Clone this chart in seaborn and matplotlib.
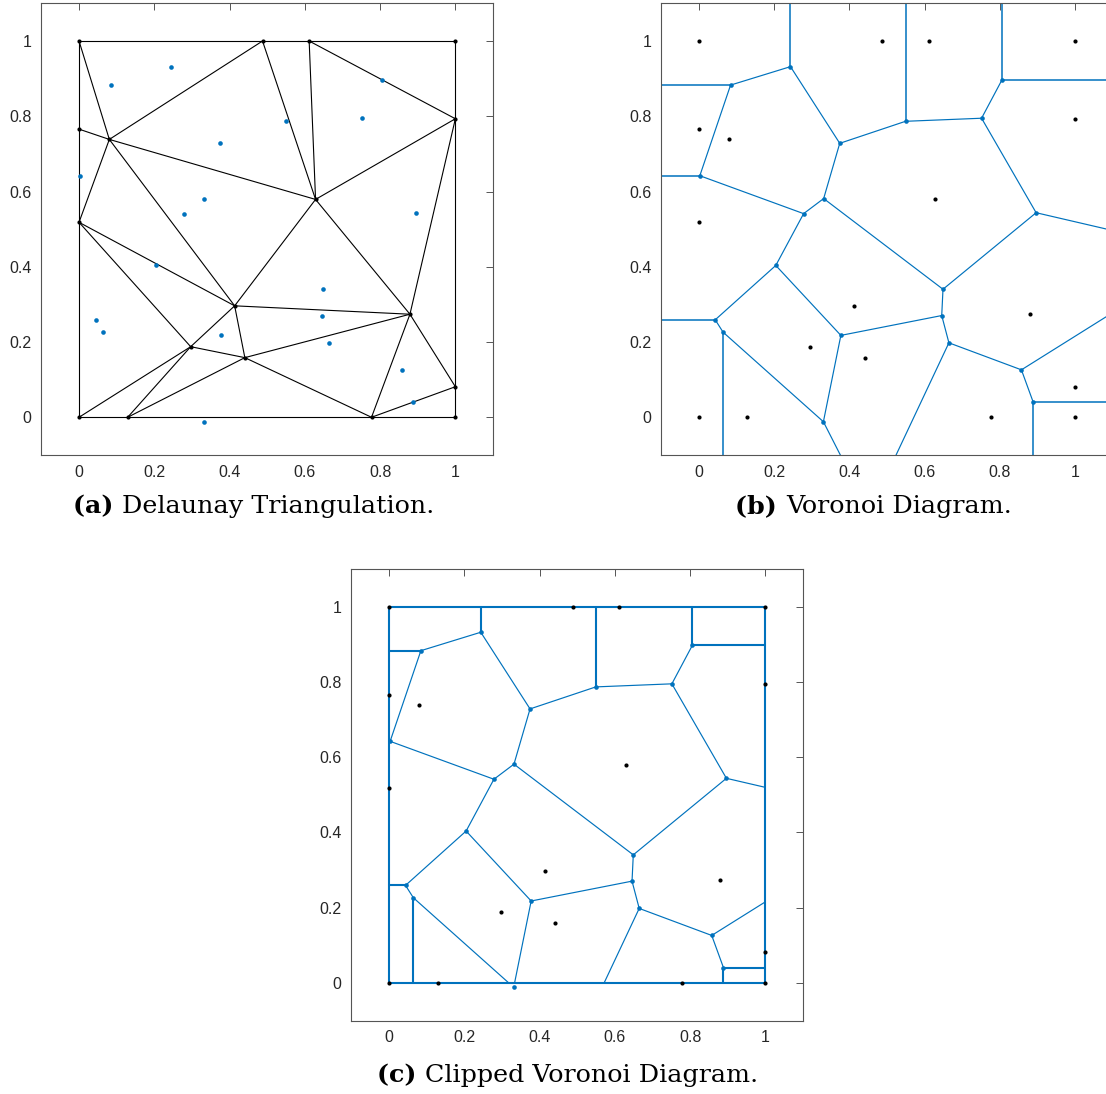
import numpy as np
import pandas as pd
import matplotlib
matplotlib.use("Agg")
import matplotlib.pyplot as plt
import seaborn as sns

# ---------------- data ----------------
site_x = [0.0, 0.4876, 0.6115, 1.0, 0.0, 0.0805, 1.0, 0.0, 0.6285, 0.4135,
          0.8793, 0.2967, 0.4406, 1.0, 0.0, 0.1292, 0.7772, 1.0]
site_y = [1.0, 1.0, 1.0, 1.0, 0.7658, 0.7385, 0.7934, 0.5182, 0.579, 0.2962,
          0.2739, 0.1876, 0.1585, 0.0812, 0.0, 0.0, 0.0, 0.0]

# Delaunay triangles (indices into the site arrays)
tri_a = [0, 0, 4, 1, 1, 2, 2, 5, 5, 7, 7, 14, 15, 11, 9, 8, 8, 12, 12, 10, 16, 6]
tri_b = [4, 1, 5, 5, 2, 6, 3, 7, 8, 9, 11, 15, 11, 9, 10, 9, 6, 15, 10, 16, 13, 10]
tri_c = [5, 5, 7, 8, 8, 8, 6, 9, 9, 11, 14, 11, 12, 12, 12, 10, 10, 16, 16, 13, 17, 13]

tick_values = [0, 0.2, 0.4, 0.6, 0.8, 1]
tick_labels = ["0", "0.2", "0.4", "0.6", "0.8", "1"]
caption_tags = ["(a)", "(b)", "(c)"]
caption_texts = ["Delaunay Triangulation.", "Voronoi Diagram.", "Clipped Voronoi Diagram."]

# ---------------- geometry derived from the data ----------------
P = np.column_stack([site_x, site_y])
tris = list(zip(tri_a, tri_b, tri_c))


def circumcenter(a, b, c):
    ax_, ay = a
    bx, by = b
    cx, cy = c
    d = 2 * (ax_ * (by - cy) + bx * (cy - ay) + cx * (ay - by))
    ux = ((ax_**2 + ay**2) * (by - cy) + (bx**2 + by**2) * (cy - ay) + (cx**2 + cy**2) * (ay - by)) / d
    uy = ((ax_**2 + ay**2) * (cx - bx) + (bx**2 + by**2) * (ax_ - cx) + (cx**2 + cy**2) * (bx - ax_)) / d
    return np.array([ux, uy])


cc = np.array([circumcenter(P[i], P[j], P[k]) for i, j, k in tris])

edge_tris = {}
for t, (i, j, k) in enumerate(tris):
    for e, other in (((i, j), k), ((j, k), i), ((i, k), j)):
        key = tuple(sorted(e))
        edge_tris.setdefault(key, []).append((t, other))

del_segs = [(P[a], P[b]) for (a, b) in edge_tris.keys()]

vor_inner = []
vor_rays = []
for (a, b), lst in edge_tris.items():
    if len(lst) == 2:
        vor_inner.append((cc[lst[0][0]], cc[lst[1][0]]))
    else:
        t, other = lst[0]
        d = P[b] - P[a]
        n = np.array([d[1], -d[0]])
        n = n / np.linalg.norm(n)
        if np.dot(n, P[other] - P[a]) > 0:
            n = -n
        vor_rays.append((cc[t], cc[t] + 5 * n))


def clip(p0, p1, lo=0.0, hi=1.0):
    x0, y0 = p0
    dx, dy = p1[0] - x0, p1[1] - y0
    t0, t1 = 0.0, 1.0
    for p, q in ((-dx, x0 - lo), (dx, hi - x0), (-dy, y0 - lo), (dy, hi - y0)):
        if abs(p) < 1e-12:
            if q < 0:
                return None
        else:
            r = q / p
            if p < 0:
                if r > t1:
                    return None
                t0 = max(t0, r)
            else:
                if r < t0:
                    return None
                t1 = min(t1, r)
    a = np.array([x0 + t0 * dx, y0 + t0 * dy])
    b = np.array([x0 + t1 * dx, y0 + t1 * dy])
    if np.linalg.norm(b - a) < 1e-9:
        return None
    return (a, b)


clip_inner = [s for s in (clip(*s) for s in vor_inner) if s is not None]
clip_rays = [s for s in (clip(*s) for s in vor_rays) if s is not None]
square = [((0, 0), (1, 0)), ((1, 0), (1, 1)), ((1, 1), (0, 1)), ((0, 1), (0, 0))]
clip_rays += [(np.array(a, float), np.array(b, float)) for a, b in square]


def seg_frame(segs):
    rows = []
    for n, (a, b) in enumerate(segs):
        rows.append((n, 0, a[0], a[1]))
        rows.append((n, 1, b[0], b[1]))
    return pd.DataFrame(rows, columns=["seg", "ord", "x", "y"])


# ---------------- style ----------------
sns.set_style("white")
plt.rcParams["font.family"] = ["Liberation Sans", "DejaVu Sans"]

BLUE = "#0072BD"
AXC = "#555555"
W, H = 1106, 1094
fig = plt.figure(figsize=(W / 100, H / 100), dpi=100)


def make_ax(left_px, top_px):
    w, h = 451.6, 451.5
    ax = fig.add_axes([left_px / W, 1 - (top_px + h) / H, w / W, h / H])
    ax.set_xlim(-0.1, 1.1)
    ax.set_ylim(-0.1, 1.1)
    ax.set_xticks(tick_values)
    ax.set_xticklabels(tick_labels)
    ax.set_yticks(tick_values)
    ax.set_yticklabels(tick_labels)
    ax.tick_params(direction="in", top=True, right=True, length=5, width=0.7,
                   color=AXC, labelcolor="#262626", labelsize=11.5, pad=7)
    for sp in ax.spines.values():
        sp.set_color(AXC)
        sp.set_linewidth(0.8)
        sp.set_visible(True)
    return ax


def draw_lines(ax, segs, color, lw):
    if not segs:
        return
    df = seg_frame(segs)
    sns.lineplot(data=df, x="x", y="y", units="seg", estimator=None, sort=False,
                 color=color, linewidth=lw, ax=ax, legend=False)


def draw_pts(ax, xs, ys, color, s):
    sns.scatterplot(x=list(xs), y=list(ys), color=color, s=s, linewidth=0, ax=ax,
                    legend=False, zorder=5)


# (a) Delaunay triangulation
ax1 = make_ax(41.4, 3.4)
draw_lines(ax1, del_segs, "black", 0.8)
draw_pts(ax1, site_x, site_y, "black", 9)
draw_pts(ax1, cc[:, 0], cc[:, 1], BLUE, 11)

# (b) Voronoi diagram
ax2 = make_ax(661.1, 3.4)
draw_lines(ax2, vor_inner, BLUE, 0.85)
draw_lines(ax2, vor_rays, BLUE, 1.1)
draw_pts(ax2, cc[:, 0], cc[:, 1], BLUE, 11)
draw_pts(ax2, site_x, site_y, "black", 9)

# (c) Clipped Voronoi diagram
ax3 = make_ax(351.4, 569.0)
draw_lines(ax3, clip_inner, BLUE, 0.85)
draw_lines(ax3, clip_rays, BLUE, 1.5)
draw_pts(ax3, cc[:, 0], cc[:, 1], BLUE, 11)
draw_pts(ax3, site_x, site_y, "black", 9)

for a in (ax1, ax2, ax3):
    a.set_xlabel("")
    a.set_ylabel("")

# ---------------- captions ----------------
renderer = fig.canvas.get_renderer()
cap_pos = [(253.7, 513.3), (873.5, 513.3), (567.5, 1082.0)]
CAPFONT = ["DejaVu Serif"]
for tag, txt, (cx, by) in zip(caption_tags, caption_texts, cap_pos):
    t1 = fig.text(0, 1 - by / H, tag + " ", fontsize=18.3, fontweight="bold",
                  family=CAPFONT, va="baseline", ha="left", color="black")
    t2 = fig.text(0, 1 - by / H, txt, fontsize=18.3, family=CAPFONT,
                  va="baseline", ha="left", color="black")
    w1 = t1.get_window_extent(renderer).width
    w2 = t2.get_window_extent(renderer).width
    x0 = cx - (w1 + w2) / 2
    t1.set_x(x0 / W)
    t2.set_x((x0 + w1) / W)

fig.savefig("out.png", dpi=100)
